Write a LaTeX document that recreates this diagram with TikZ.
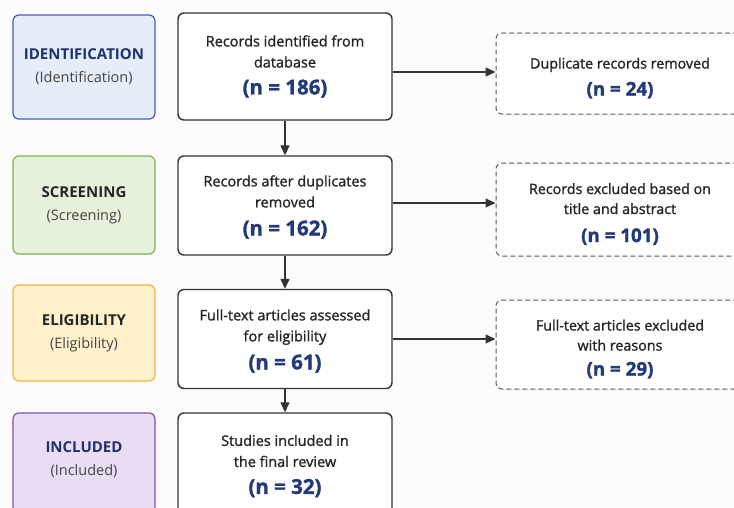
\documentclass[tikz,border=0pt]{standalone}
\usepackage{fontspec}
\setmainfont{Open Sans}
\newfontfamily\medfont{Open Sans}[FakeBold=1.4]
\usetikzlibrary{arrows.meta,positioning,calc}
\definecolor{navy}{HTML}{1F3170}
\definecolor{nblue}{HTML}{22397A}
\definecolor{idfill}{HTML}{E4EDF9}
\definecolor{iddraw}{HTML}{4A5CB4}
\definecolor{scfill}{HTML}{E6F1DC}
\definecolor{scdraw}{HTML}{7DB05A}
\definecolor{elfill}{HTML}{FEF1CB}
\definecolor{eldraw}{HTML}{F2B23E}
\definecolor{infill}{HTML}{E8DDF3}
\definecolor{indraw}{HTML}{7A56A8}
\definecolor{boxline}{HTML}{333333}
\definecolor{subgray}{HTML}{444444}
\tikzset{
  x=1pt, y=-1pt,
  stagebox/.style={rectangle, rounded corners=6pt, line width=1.2pt, minimum width=142pt, align=center, inner sep=0pt, font=\fontsize{14.5}{23}\selectfont},
  mainbox/.style={rectangle, rounded corners=6pt, draw=boxline, fill=white, line width=1.4pt, minimum width=214pt, align=center, inner sep=0pt, font=\medfont\fontsize{14.5}{21}\selectfont, text=black!85},
  sidebox/.style={rectangle, rounded corners=6pt, draw=black!65, fill=white, line width=1pt, dash pattern=on 5pt off 3pt, minimum width=248pt, align=center, inner sep=0pt, font=\medfont\fontsize{14.3}{20}\selectfont, text=black!85},
  flow/.style={-{Triangle[length=10pt,width=9pt]}, line width=1.3pt, draw=boxline},
}
\newcommand{\stitle}[2]{{\fontsize{15}{23}\selectfont\bfseries\color{#1}#2}}
\newcommand{\ssub}[1]{{\fontsize{14.5}{23}\selectfont\color{subgray}#1}}
\newcommand{\nval}[1]{{\fontsize{20.5}{26}\selectfont\bfseries\color{nblue}#1}}
\newcommand{\nvals}[1]{{\fontsize{18.8}{24}\selectfont\bfseries\color{nblue}#1}}
\newcommand{\topstrut}[1]{\rule{0pt}{#1}}
\newcommand{\botstrut}[1]{\rule[-#1]{0pt}{0pt}}
\begin{document}
\begin{tikzpicture}
\fill[white!99!black] (0,0) rectangle (734,507);
\useasboundingbox (0,0) rectangle (734,507);
\clip (0,0) rectangle (734,507);
% stage boxes
\node[stagebox, fill=idfill, draw=iddraw, minimum height=104pt] (s1) at (84,67) {\stitle{navy}{IDENTIFICATION}\\\ssub{(Identification)}};
\node[stagebox, fill=scfill, draw=scdraw, minimum height=98pt] (s2) at (84,205) {\stitle{black!85}{SCREENING}\\\ssub{(Screening)}};
\node[stagebox, fill=elfill, draw=eldraw, minimum height=96pt] (s3) at (84,333) {\stitle{black!85}{ELIGIBILITY}\\\ssub{(Eligibility)}};
\node[stagebox, fill=infill, draw=indraw, minimum height=106pt] (s4) at (84,466) {\stitle{navy}{INCLUDED}\\\ssub{(Included)}\botstrut{14pt}};
% main boxes
\node[mainbox, minimum height=107pt] (m1) at (285,66.5) {Records identified from\\database\\[6pt]\nval{(n = 186)}};
\node[mainbox, minimum height=99pt] (m2) at (285,205.5) {\topstrut{14pt}Records after duplicates\\removed\\[7pt]\nval{(n = 162)}};
\node[mainbox, minimum height=99pt] (m3) at (285,339) {\topstrut{15pt}Full-text articles assessed\\for eligibility\\[7pt]\nval{(n = 61)}};
\node[mainbox, minimum height=106pt] (m4) at (285,466) {Studies included in\\the final review\\[6pt]\nval{(n = 32)}};
% side boxes
\node[sidebox, minimum height=81pt] (d1) at (620,73.5) {\topstrut{20pt}Duplicate records removed\\[7pt]\nvals{(n = 24)}};
\node[sidebox, minimum height=93pt] (d2) at (620,209.5) {\topstrut{20pt}Records excluded based on\\title and abstract\\[8pt]\nvals{(n = 101)}};
\node[sidebox, minimum height=89pt] (d3) at (620,344.5) {\topstrut{20pt}Full-text articles excluded\\with reasons\\[5pt]\nvals{(n = 29)}};
% vertical arrows
\draw[flow] (m1) -- (m2);
\draw[flow] (m2) -- (m3);
\draw[flow] (m3) -- (m4);
% horizontal arrows
\draw[flow] ([yshift=-5.5pt]m1.east) -- ([yshift=-5.5pt]m1.east -| d1.west);
\draw[flow] ([yshift=2.5pt]m2.east) -- ([yshift=2.5pt]m2.east -| d2.west);
\draw[flow] ([yshift=0pt]m3.east) -- ([yshift=0pt]m3.east -| d3.west);
\end{tikzpicture}
\end{document}
